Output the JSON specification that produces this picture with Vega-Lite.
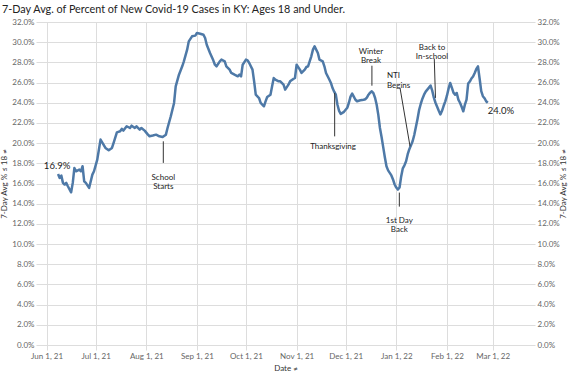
{
  "$schema": "https://vega.github.io/schema/vega-lite/v6.json",
  "width": 499,
  "height": 323,
  "autosize": {"type": "none"},
  "padding": {"left": 36, "top": 22, "right": 40, "bottom": 31},
  "background": "white",
  "config": {"view": {"stroke": null}, "font": "Lato"},
  "title": {"text": "7-Day Avg. of Percent of New Covid-19 Cases in KY: Ages 18 and Under.", "anchor": "start", "frame": "group", "dx": -34, "offset": 3, "fontSize": 10.8, "font": "Lato", "fontWeight": "normal", "color": "#222222"},
  "encoding": {
    "x": {
      "field": "date", "type": "temporal",
      "scale": {"domain": [{"year": 2021, "month": 5, "date": 25, "hours": 12}, {"year": 2022, "month": 3, "date": 26, "hours": 21, "minutes": 36}]},
      "axis": {"title": "Date ≠", "format": "%b %-d, %y", "tickCount": {"interval": "month", "step": 1}, "labelFontSize": 8, "labelColor": "#666666", "titleFontSize": 8, "titleFontWeight": "normal", "titleColor": "#333333", "grid": true, "gridColor": "#dddddd", "tickColor": "#dddddd", "tickSize": 5, "domain": false, "labelPadding": 2, "titlePadding": 4, "labelFlush": false, "labelOverlap": false}
    }
  },
  "resolve": {"axis": {"y": "independent"}},
  "layer": [
    {
      "data": {"values": [
        {"date": "2021-06-08", "pct": 16.95}, {"date": "2021-06-09", "pct": 16.55}, {"date": "2021-06-10", "pct": 16.78}, {"date": "2021-06-11", "pct": 16.06}, {"date": "2021-06-12", "pct": 15.9}, {"date": "2021-06-13", "pct": 16.06}, {"date": "2021-06-14", "pct": 15.73}, {"date": "2021-06-16", "pct": 15.13}, {"date": "2021-06-17", "pct": 16.06}, {"date": "2021-06-18", "pct": 17.54}, {"date": "2021-06-19", "pct": 17.21}, {"date": "2021-06-21", "pct": 17.38}, {"date": "2021-06-22", "pct": 17.21}, {"date": "2021-06-23", "pct": 17.71}, {"date": "2021-06-24", "pct": 16.22}, {"date": "2021-06-25", "pct": 16.06}, {"date": "2021-06-27", "pct": 15.56}, {"date": "2021-06-29", "pct": 16.88}, {"date": "2021-06-30", "pct": 17.21},
        {"date": "2021-07-02", "pct": 18.37}, {"date": "2021-07-04", "pct": 20.35}, {"date": "2021-07-05", "pct": 20.08}, {"date": "2021-07-07", "pct": 19.52}, {"date": "2021-07-09", "pct": 19.29}, {"date": "2021-07-11", "pct": 19.52}, {"date": "2021-07-12", "pct": 20.02}, {"date": "2021-07-14", "pct": 21.07}, {"date": "2021-07-16", "pct": 21.17}, {"date": "2021-07-17", "pct": 21.41}, {"date": "2021-07-18", "pct": 21.24}, {"date": "2021-07-20", "pct": 21.67}, {"date": "2021-07-22", "pct": 21.5}, {"date": "2021-07-23", "pct": 21.73}, {"date": "2021-07-25", "pct": 21.5}, {"date": "2021-07-26", "pct": 21.67}, {"date": "2021-07-28", "pct": 21.34}, {"date": "2021-07-29", "pct": 21.5}, {"date": "2021-07-31", "pct": 21.24},
        {"date": "2021-08-02", "pct": 20.84}, {"date": "2021-08-03", "pct": 20.68}, {"date": "2021-08-05", "pct": 20.75}, {"date": "2021-08-07", "pct": 20.84}, {"date": "2021-08-09", "pct": 20.68}, {"date": "2021-08-11", "pct": 20.61}, {"date": "2021-08-13", "pct": 20.84}, {"date": "2021-08-14", "pct": 21.5}, {"date": "2021-08-16", "pct": 22.66}, {"date": "2021-08-18", "pct": 23.98}, {"date": "2021-08-19", "pct": 25.63}, {"date": "2021-08-21", "pct": 26.78}, {"date": "2021-08-23", "pct": 27.61}, {"date": "2021-08-24", "pct": 28.1}, {"date": "2021-08-26", "pct": 29.26}, {"date": "2021-08-27", "pct": 30.08}, {"date": "2021-08-29", "pct": 30.58}, {"date": "2021-08-31", "pct": 30.65},
        {"date": "2021-09-01", "pct": 30.91}, {"date": "2021-09-03", "pct": 30.84}, {"date": "2021-09-05", "pct": 30.74}, {"date": "2021-09-06", "pct": 30.41}, {"date": "2021-09-07", "pct": 29.75}, {"date": "2021-09-09", "pct": 28.93}, {"date": "2021-09-11", "pct": 28.2}, {"date": "2021-09-12", "pct": 27.77}, {"date": "2021-09-13", "pct": 27.61}, {"date": "2021-09-15", "pct": 28.1}, {"date": "2021-09-16", "pct": 28.27}, {"date": "2021-09-18", "pct": 28.1}, {"date": "2021-09-19", "pct": 27.61}, {"date": "2021-09-21", "pct": 27.28}, {"date": "2021-09-22", "pct": 26.95}, {"date": "2021-09-24", "pct": 26.78}, {"date": "2021-09-26", "pct": 26.62}, {"date": "2021-09-27", "pct": 26.78}, {"date": "2021-09-28", "pct": 26.62}, {"date": "2021-09-29", "pct": 27.77},
        {"date": "2021-10-01", "pct": 28.27}, {"date": "2021-10-02", "pct": 28.2}, {"date": "2021-10-03", "pct": 27.94}, {"date": "2021-10-05", "pct": 27.28}, {"date": "2021-10-06", "pct": 26.12}, {"date": "2021-10-07", "pct": 24.8}, {"date": "2021-10-09", "pct": 24.47}, {"date": "2021-10-10", "pct": 23.98}, {"date": "2021-10-12", "pct": 23.65}, {"date": "2021-10-13", "pct": 24.14}, {"date": "2021-10-14", "pct": 24.57}, {"date": "2021-10-16", "pct": 24.8}, {"date": "2021-10-17", "pct": 25.63}, {"date": "2021-10-18", "pct": 26.45}, {"date": "2021-10-19", "pct": 26.29}, {"date": "2021-10-21", "pct": 26.12}, {"date": "2021-10-22", "pct": 26.12}, {"date": "2021-10-24", "pct": 25.79}, {"date": "2021-10-25", "pct": 25.3}, {"date": "2021-10-27", "pct": 25.79}, {"date": "2021-10-28", "pct": 26.12}, {"date": "2021-10-30", "pct": 26.36}, {"date": "2021-10-31", "pct": 26.45},
        {"date": "2021-11-01", "pct": 27.77}, {"date": "2021-11-03", "pct": 27.28}, {"date": "2021-11-04", "pct": 26.95}, {"date": "2021-11-06", "pct": 27.28}, {"date": "2021-11-07", "pct": 27.54}, {"date": "2021-11-08", "pct": 27.61}, {"date": "2021-11-10", "pct": 28.6}, {"date": "2021-11-11", "pct": 29.26}, {"date": "2021-11-12", "pct": 29.59}, {"date": "2021-11-14", "pct": 28.93}, {"date": "2021-11-15", "pct": 28.27}, {"date": "2021-11-17", "pct": 28.1}, {"date": "2021-11-18", "pct": 27.61}, {"date": "2021-11-19", "pct": 26.95}, {"date": "2021-11-21", "pct": 26.3}, {"date": "2021-11-22", "pct": 25.96}, {"date": "2021-11-23", "pct": 25.46}, {"date": "2021-11-24", "pct": 25.1}, {"date": "2021-11-25", "pct": 24.8}, {"date": "2021-11-26", "pct": 23.8}, {"date": "2021-11-27", "pct": 23.2}, {"date": "2021-11-28", "pct": 22.9}, {"date": "2021-11-30", "pct": 23.1},
        {"date": "2021-12-01", "pct": 23.3}, {"date": "2021-12-02", "pct": 23.5}, {"date": "2021-12-03", "pct": 24.0}, {"date": "2021-12-04", "pct": 24.6}, {"date": "2021-12-05", "pct": 24.9}, {"date": "2021-12-06", "pct": 24.6}, {"date": "2021-12-07", "pct": 24.3}, {"date": "2021-12-08", "pct": 24.15}, {"date": "2021-12-10", "pct": 24.24}, {"date": "2021-12-12", "pct": 24.3}, {"date": "2021-12-13", "pct": 24.35}, {"date": "2021-12-14", "pct": 24.5}, {"date": "2021-12-15", "pct": 24.8}, {"date": "2021-12-16", "pct": 25.0}, {"date": "2021-12-17", "pct": 25.13}, {"date": "2021-12-18", "pct": 24.95}, {"date": "2021-12-19", "pct": 24.5}, {"date": "2021-12-20", "pct": 23.8}, {"date": "2021-12-21", "pct": 22.8}, {"date": "2021-12-22", "pct": 21.5}, {"date": "2021-12-23", "pct": 20.6}, {"date": "2021-12-24", "pct": 19.6}, {"date": "2021-12-25", "pct": 18.6}, {"date": "2021-12-26", "pct": 17.7}, {"date": "2021-12-27", "pct": 17.3}, {"date": "2021-12-28", "pct": 17.05}, {"date": "2021-12-29", "pct": 16.8}, {"date": "2021-12-30", "pct": 16.4}, {"date": "2021-12-31", "pct": 15.9},
        {"date": "2022-01-01", "pct": 15.6}, {"date": "2022-01-02", "pct": 15.4}, {"date": "2022-01-03", "pct": 15.6}, {"date": "2022-01-04", "pct": 16.7}, {"date": "2022-01-05", "pct": 17.5}, {"date": "2022-01-06", "pct": 17.8}, {"date": "2022-01-07", "pct": 18.2}, {"date": "2022-01-08", "pct": 18.9}, {"date": "2022-01-09", "pct": 19.4}, {"date": "2022-01-11", "pct": 20.18}, {"date": "2022-01-12", "pct": 20.8}, {"date": "2022-01-13", "pct": 21.6}, {"date": "2022-01-14", "pct": 22.4}, {"date": "2022-01-15", "pct": 23.3}, {"date": "2022-01-16", "pct": 23.9}, {"date": "2022-01-17", "pct": 24.4}, {"date": "2022-01-18", "pct": 24.8}, {"date": "2022-01-19", "pct": 25.1}, {"date": "2022-01-21", "pct": 25.5}, {"date": "2022-01-22", "pct": 25.7}, {"date": "2022-01-23", "pct": 25.2}, {"date": "2022-01-24", "pct": 24.5}, {"date": "2022-01-25", "pct": 24.0}, {"date": "2022-01-26", "pct": 23.6}, {"date": "2022-01-27", "pct": 23.2}, {"date": "2022-01-28", "pct": 22.85}, {"date": "2022-01-29", "pct": 23.2}, {"date": "2022-01-30", "pct": 23.7}, {"date": "2022-01-31", "pct": 24.14},
        {"date": "2022-02-01", "pct": 24.7}, {"date": "2022-02-02", "pct": 25.4}, {"date": "2022-02-03", "pct": 25.96}, {"date": "2022-02-04", "pct": 25.5}, {"date": "2022-02-05", "pct": 25.0}, {"date": "2022-02-06", "pct": 24.8}, {"date": "2022-02-07", "pct": 24.97}, {"date": "2022-02-08", "pct": 24.31}, {"date": "2022-02-09", "pct": 24.0}, {"date": "2022-02-10", "pct": 23.6}, {"date": "2022-02-11", "pct": 23.15}, {"date": "2022-02-12", "pct": 23.81}, {"date": "2022-02-13", "pct": 24.3}, {"date": "2022-02-14", "pct": 25.9}, {"date": "2022-02-15", "pct": 26.1}, {"date": "2022-02-16", "pct": 26.4}, {"date": "2022-02-17", "pct": 26.6}, {"date": "2022-02-18", "pct": 26.95}, {"date": "2022-02-19", "pct": 27.35}, {"date": "2022-02-20", "pct": 27.6}, {"date": "2022-02-21", "pct": 26.4}, {"date": "2022-02-22", "pct": 25.15}, {"date": "2022-02-23", "pct": 24.65}, {"date": "2022-02-24", "pct": 24.45}, {"date": "2022-02-25", "pct": 24.15}, {"date": "2022-02-26", "pct": 24.0}
      ], "format": {"parse": {"date": "date:'%Y-%m-%d'"}}},
      "mark": {"type": "line", "color": "#4e79a7", "strokeWidth": 2.5, "strokeJoin": "round"},
      "encoding": {
        "y": {"field": "pct", "type": "quantitative", "scale": {"domain": [0, 32], "nice": false},
          "axis": {"orient": "left", "title": "7-Day Avg % ≤ 18 ≠", "values": [0, 2, 4, 6, 8, 10, 12, 14, 16, 18, 20, 22, 24, 26, 28, 30, 32], "labelExpr": "format(datum.value, '.1f') + '%'", "grid": true, "gridColor": "#dddddd", "ticks": false, "domain": false, "labelFontSize": 8, "labelColor": "#666666", "labelPadding": 2, "titleFontSize": 8, "titleFontWeight": "normal", "titleColor": "#333333", "titlePadding": 3}}
      }
    },
    {
      "data": {"values": [
        {"date": "2021-08-11 10:00", "date2": "2021-08-11 10:00", "pct": 20.18, "pct2": 18.04},
        {"date": "2021-11-24 07:00", "date2": "2021-11-24 07:00", "pct": 24.97, "pct2": 20.67},
        {"date": "2021-12-17 02:00", "date2": "2021-12-17 02:00", "pct": 27.67, "pct2": 25.69},
        {"date": "2022-01-03 07:00", "date2": "2022-01-09 10:00", "pct": 25.47, "pct2": 19.68},
        {"date": "2022-01-02 21:00", "date2": "2022-01-02 21:00", "pct": 15.1, "pct2": 13.71},
        {"date": "2022-01-24 06:00", "date2": "2022-01-25 00:00", "pct": 28.37, "pct2": 24.48}
      ], "format": {"parse": {"date": "date:'%Y-%m-%d %H:%M'", "date2": "date:'%Y-%m-%d %H:%M'"}}},
      "mark": {"type": "rule", "color": "#333333", "strokeWidth": 1},
      "encoding": {
        "x2": {"field": "date2"},
        "y": {"field": "pct", "type": "quantitative", "scale": {"domain": [0, 32], "nice": false},
          "axis": {"orient": "right", "title": "7-Day Avg % ≤ 18 ≠", "titleAngle": 270, "values": [0, 2, 4, 6, 8, 10, 12, 14, 16, 18, 20, 22, 24, 26, 28, 30, 32], "labelExpr": "format(datum.value, '.1f') + '%'", "grid": false, "ticks": false, "domain": false, "labelFontSize": 8, "labelColor": "#666666", "labelPadding": 2, "titleFontSize": 8, "titleFontWeight": "normal", "titleColor": "#333333", "titlePadding": 8}},
        "y2": {"field": "pct2"}
      }
    },
    {
      "data": {"values": [
        {"date": "2021-08-11 10:00", "pct": 16.58, "label": "School\nStarts"},
        {"date": "2021-11-23 07:00", "pct": 19.62, "label": "Thanksgiving"},
        {"date": "2021-12-16 12:00", "pct": 29.06, "label": "Winter\nBreak"},
        {"date": "2022-01-02 21:00", "pct": 12.31, "label": "1st Day\nBack"},
        {"date": "2022-01-22 21:00", "pct": 29.43, "label": "Back to\nIn-school"}
      ], "format": {"parse": {"date": "date:'%Y-%m-%d %H:%M'"}}},
      "mark": {"type": "text", "fontSize": 8, "color": "#222222", "align": "center", "baseline": "middle", "lineBreak": "\n", "lineHeight": 9.5},
      "encoding": {
        "y": {"field": "pct", "type": "quantitative", "scale": {"domain": [0, 32], "nice": false}, "axis": null},
        "text": {"field": "label"}
      }
    },
    {
      "data": {"values": [
        {"date": "2021-12-26 07:00", "pct": 26.65, "label": "NTI\nBegins"}
      ], "format": {"parse": {"date": "date:'%Y-%m-%d %H:%M'"}}},
      "mark": {"type": "text", "fontSize": 8, "color": "#222222", "align": "left", "baseline": "middle", "lineBreak": "\n", "lineHeight": 9.5},
      "encoding": {
        "y": {"field": "pct", "type": "quantitative", "scale": {"domain": [0, 32], "nice": false}, "axis": null},
        "text": {"field": "label"}
      }
    },
    {
      "data": {"values": [{"date": "2021-06-08", "pct": 16.95, "label": "16.9%"}], "format": {"parse": {"date": "date:'%Y-%m-%d'"}}},
      "mark": {"type": "text", "fontSize": 9.5, "color": "#222222", "align": "center", "baseline": "middle", "dx": -1, "dy": -8},
      "encoding": {
        "y": {"field": "pct", "type": "quantitative", "scale": {"domain": [0, 32], "nice": false}, "axis": null},
        "text": {"field": "label"}
      }
    },
    {
      "data": {"values": [{"date": "2022-02-26", "pct": 24.0, "label": "24.0%"}], "format": {"parse": {"date": "date:'%Y-%m-%d'"}}},
      "mark": {"type": "text", "fontSize": 9.5, "color": "#222222", "align": "left", "baseline": "middle", "dx": 0, "dy": 8},
      "encoding": {
        "y": {"field": "pct", "type": "quantitative", "scale": {"domain": [0, 32], "nice": false}, "axis": null},
        "text": {"field": "label"}
      }
    }
  ]
}
